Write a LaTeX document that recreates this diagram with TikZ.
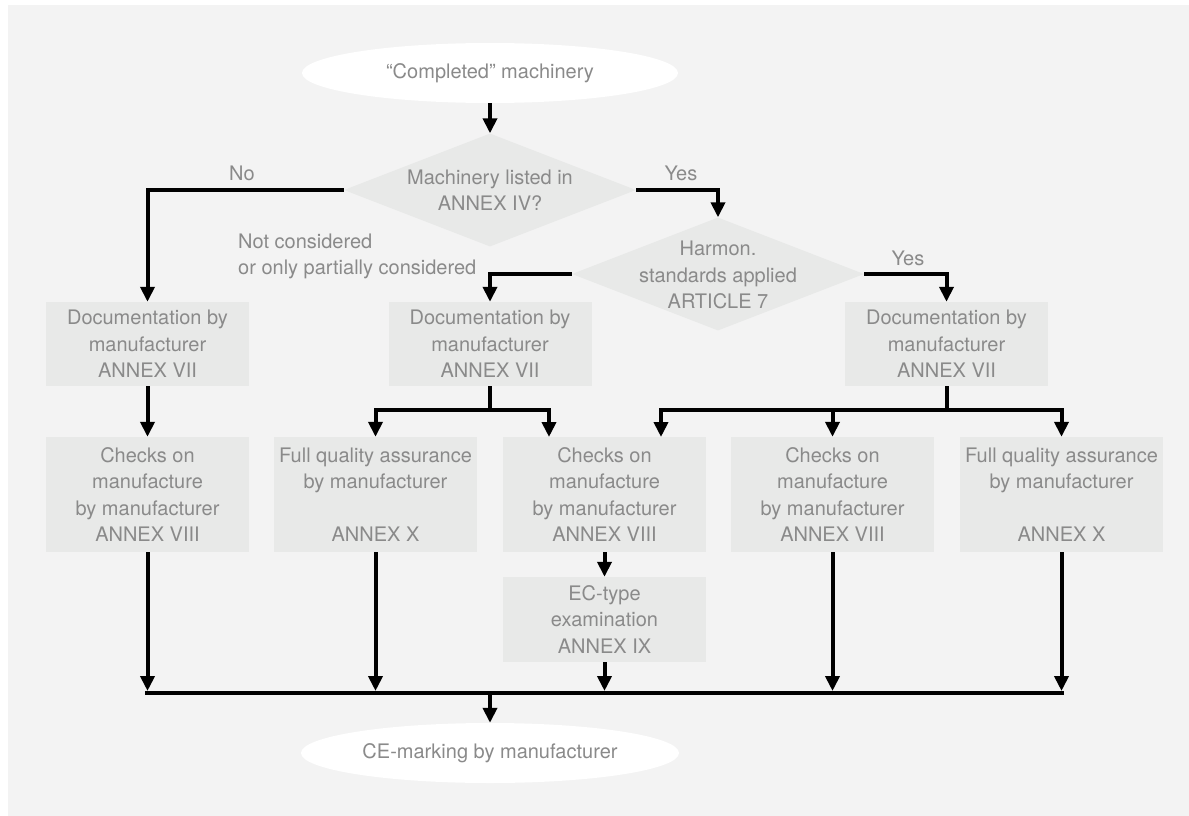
\documentclass[tikz,border=0pt]{standalone}
\usepackage{fontspec}
\setmainfont{TeX Gyre Heros}
\usetikzlibrary{shapes.geometric,arrows.meta}
\definecolor{bgc}{HTML}{F3F3F3}
\definecolor{boxc}{HTML}{E8E9E8}
\definecolor{txtc}{HTML}{8A8A8A}
\begin{document}
\begin{tikzpicture}[x=1pt,y=-1pt,
  every node/.style={font=\fontsize{20}{26.5}\selectfont, text=txtc},
  txt/.style={align=center, inner sep=0pt},
  procbox/.style={fill=boxc, minimum width=203pt, inner sep=0pt, align=center},
  termin/.style={ellipse, fill=white, inner sep=0pt, align=center},
  decis/.style={diamond, fill=boxc, minimum width=292pt, minimum height=113pt, inner sep=0pt},
  conn/.style={line width=4pt, line join=miter, draw=black},
  arr/.style={conn, -{Triangle[width=14pt,length=15pt]}}
]
\useasboundingbox (0,0) rectangle (1189,816);
\fill[bgc] (8,5) rectangle (1189,816);

% terminals
\node[termin, minimum width=376pt, minimum height=60pt] (start) at (490,73) {“Completed” machinery};
\node[termin, minimum width=378pt, minimum height=60pt] (finish) at (490,753) {CE-marking by manufacturer};

% decisions
\node[decis] (d1) at (490,190) {};
\node[txt] (d1t) at (490,190) {Machinery listed in\\ANNEX IV?};
\node[decis] (d2) at (718,274) {};
\node[txt] (d2t) at (718,275) {Harmon.\\standards applied\\ARTICLE 7};

% documentation boxes
\node[procbox, minimum height=84pt] (doc1) at (147.5,344) {Documentation by\\manufacturer\\ANNEX VII};
\node[procbox, minimum height=84pt] (doc2) at (490,344) {Documentation by\\manufacturer\\ANNEX VII};
\node[procbox, minimum height=84pt] (doc3) at (946.5,344) {Documentation by\\manufacturer\\ANNEX VII};

% second row
\node[procbox, minimum height=115pt] (chk1) at (147.5,494.5) {Checks on\\manufacture\\by manufacturer\\ANNEX VIII};
\node[procbox, minimum height=115pt] (fqa1) at (375.5,494.5) {Full quality assurance\\by manufacturer\\[26.5pt]ANNEX X};
\node[procbox, minimum height=115pt] (chk2) at (604.5,494.5) {Checks on\\manufacture\\by manufacturer\\ANNEX VIII};
\node[procbox, minimum height=115pt] (chk3) at (832.5,494.5) {Checks on\\manufacture\\by manufacturer\\ANNEX VIII};
\node[procbox, minimum height=115pt] (fqa2) at (1061.5,494.5) {Full quality assurance\\by manufacturer\\[26.5pt]ANNEX X};

\node[procbox, minimum height=85pt] (ec) at (604.5,619.5) {EC-type\\examination\\ANNEX IX};

% labels
\node[txt] (lno) at (242,173) {No};
\node[txt] (lyes1) at (681,173) {Yes};
\node[txt] (lyes2) at (908,258) {Yes};
\node[txt, align=left, anchor=west] (lnot) at (238,256.5) {Not considered\\or only partially considered};

% helper coordinates
\coordinate (b2) at (490,410);
\coordinate (b3) at (946.5,410);
\coordinate (c2a) at (549,437);
\coordinate (c2b) at (661,437);
\coordinate (bl) at (145,693);
\coordinate (br) at (1064,693);
\coordinate (bm) at (490,693);
\coordinate (t1) at (147.5,691);
\coordinate (t2) at (375.5,691);
\coordinate (t3) at (604.5,691);
\coordinate (t4) at (832.5,691);
\coordinate (t5) at (1061.5,691);

% connectors
\draw[arr] (start.south) -- (d1.north);
\draw[arr] (d1.west) -| (doc1.north);
\draw[arr] (d1.east) -| (d2.north);
\draw[arr] (d2.west) -| (doc2.north);
\draw[arr] (d2.east) -| (doc3.north);
\draw[arr] (doc1.south) -- (chk1.north);

\draw[conn] (doc2.south) -- (b2);
\draw[arr] (b2) -| (fqa1.north);
\draw[arr] (b2) -| (c2a);

\draw[conn] (doc3.south) -- (b3);
\draw[arr] (b3) -| (c2b);
\draw[arr] (b3) -| (chk3.north);
\draw[arr] (b3) -| (fqa2.north);

\draw[arr] (chk2.south) -- (ec.north);

\draw[arr] (chk1.south) -- (t1);
\draw[arr] (fqa1.south) -- (t2);
\draw[arr] (ec.south) -- (t3);
\draw[arr] (chk3.south) -- (t4);
\draw[arr] (fqa2.south) -- (t5);
\draw[conn] (bl) -- (br);
\draw[arr] (bm) -- (finish.north);
\end{tikzpicture}
\end{document}
